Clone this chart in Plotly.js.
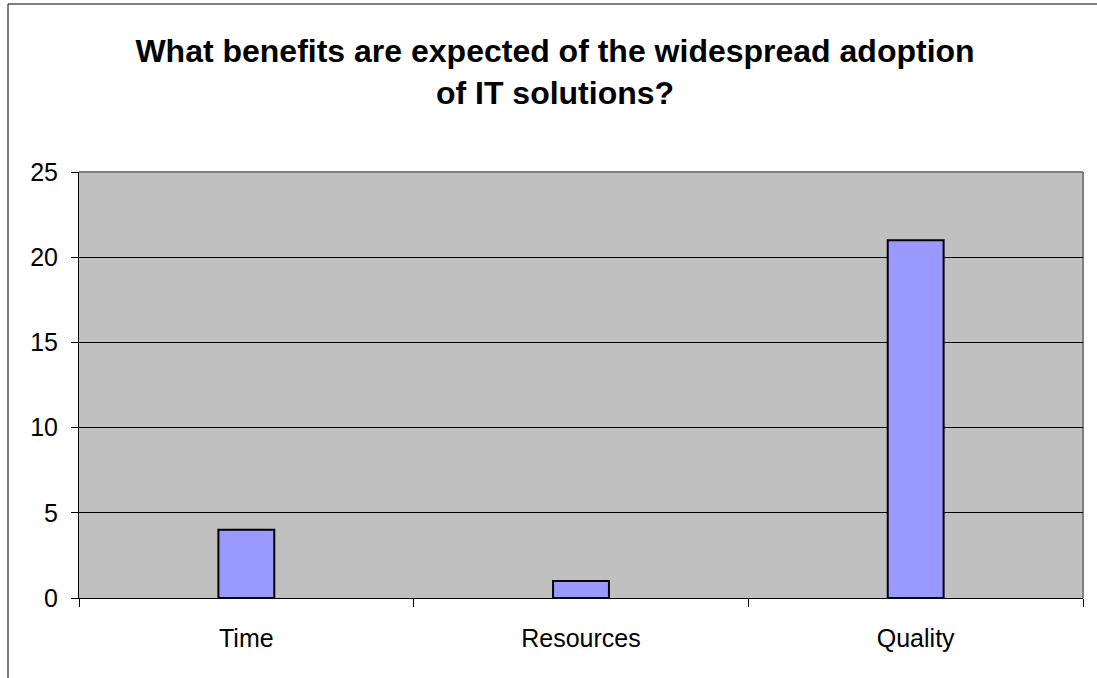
<!DOCTYPE html>
<html>
<head>
<meta charset="utf-8">
<script src="https://cdn.plot.ly/plotly-3.0.1.min.js"></script>
<style>
  html, body { margin: 0; padding: 0; background: #ffffff; }
  #chart { width: 1097px; height: 678px; }
</style>
</head>
<body>
<div id="chart"></div>
<script>
// Survey answers: expected benefits of IT solutions
const categories = ["Time", "Resources", "Quality"];
const counts = [4, 1, 21];
const yTicks = [0, 5, 10, 15, 20, 25];

const W = 1097, H = 678;
const margin = { l: 79, r: 14, t: 172, b: 80 };
const plotW = W - margin.l - margin.r;
const plotH = H - margin.t - margin.b;
// convert pixel offsets to paper fractions for the outer frame
const px = x => (x - margin.l) / plotW;
const py = y => 1 - (y - margin.t) / plotH;

const trace = {
  type: "bar",
  x: categories,
  y: counts,
  width: 0.167,
  marker: { color: "#9999ff", line: { color: "#000000", width: 2 } },
  hoverinfo: "x+y"
};

const layout = {
  width: W,
  height: H,
  margin: margin,
  paper_bgcolor: "#ffffff",
  plot_bgcolor: "#c0c0c0",
  showlegend: false,
  font: { family: "Liberation Sans, Arial, sans-serif", color: "#000000", size: 25 },
  title: {
    text: "<b>What benefits are expected of the widespread adoption<br>of IT solutions?</b>",
    font: { family: "Liberation Sans, Arial, sans-serif", size: 32, color: "#000000",
            lineheight: 1.4 },
    x: px(555),
    xref: "paper",
    xanchor: "center",
    y: 1 - 62 / H,
    yanchor: "top"
  },
  xaxis: {
    type: "category",
    range: [-0.5, 2.5],
    showline: true,
    linecolor: "#000000",
    linewidth: 1,
    ticks: "outside",
    tickson: "boundaries",
    ticklen: 8,
    tickcolor: "#000000",
    showgrid: false,
    tickfont: { size: 25 },
    ticklabelstandoff: 18,
    fixedrange: true
  },
  yaxis: {
    range: [0, 25],
    tickvals: yTicks,
    showline: true,
    linecolor: "#000000",
    linewidth: 1,
    ticks: "outside",
    ticklen: 7,
    tickcolor: "#000000",
    showgrid: true,
    gridcolor: "#000000",
    gridwidth: 1,
    zeroline: false,
    tickfont: { size: 25 },
    ticklabelstandoff: 8,
    fixedrange: true
  },
  shapes: [
    // plot-area top and right edges in grey
    { type: "line", xref: "paper", yref: "paper", x0: 0, x1: 1, y0: 1, y1: 1,
      line: { color: "#808080", width: 2 }, layer: "below" },
    { type: "line", xref: "paper", yref: "paper", x0: 1, x1: 1, y0: 0, y1: 1,
      line: { color: "#808080", width: 2 }, layer: "below" },
    // outer chart frame
    { type: "line", xref: "paper", yref: "paper", x0: px(8), x1: px(8), y0: py(4), y1: py(H + 5),
      line: { color: "#000000", width: 1 } },
    { type: "line", xref: "paper", yref: "paper", x0: px(8), x1: px(W + 5), y0: py(4), y1: py(4),
      line: { color: "#000000", width: 1 } }
  ]
};

Plotly.newPlot("chart", [trace], layout, { displayModeBar: false, staticPlot: true });
</script>
</body>
</html>
